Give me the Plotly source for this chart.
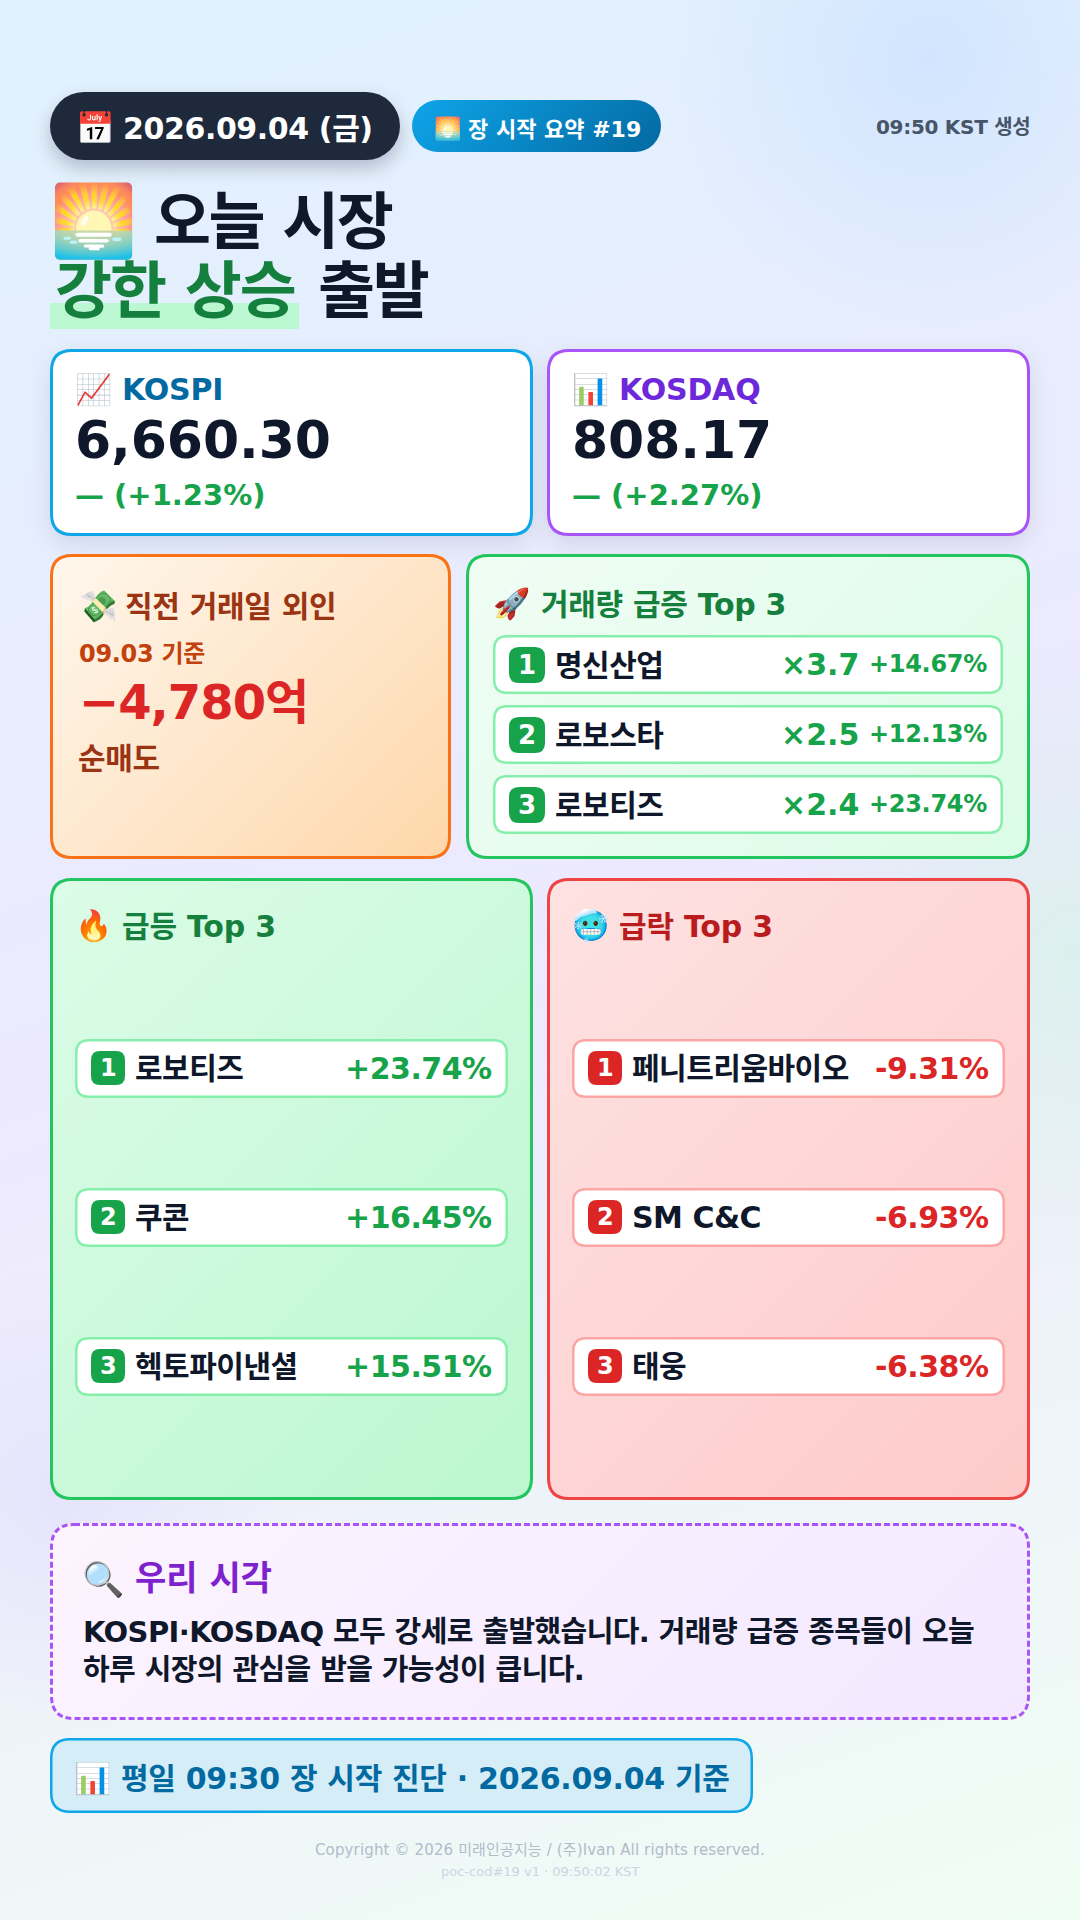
import base64
import math

import plotly.graph_objects as go

FONT = '"DejaVu Sans","Noto Sans CJK KR","Noto Color Emoji",sans-serif'

# values
date_text = "2026.09.04 (금)"
tag_text = "장 시작 요약 #19"
generated_text = "09:50 KST 생성"

index_names = ["KOSPI", "KOSDAQ"]
index_icons = ["📈", "📊"]
index_values = ["6,660.30", "808.17"]
index_changes = ["— (+1.23%)", "— (+2.27%)"]

foreign_date = "09.03 기준"
foreign_value = "−4,780억"
foreign_label = "순매도"

volume_names = ["명신산업", "로보스타", "로보티즈"]
volume_mult = ["×3.7", "×2.5", "×2.4"]
volume_pcts = ["+14.67%", "+12.13%", "+23.74%"]

gainer_names = ["로보티즈", "쿠콘", "헥토파이낸셜"]
gainer_pcts = ["+23.74%", "+16.45%", "+15.51%"]
loser_names = ["페니트리움바이오", "SM C&C", "태웅"]
loser_pcts = ["-9.31%", "-6.93%", "-6.38%"]

insight_lines = [
    "KOSPI·KOSDAQ 모두 강세로 출발했습니다. 거래량 급증 종목들이 오늘",
    "하루 시장의 관심을 받을 가능성이 큽니다.",
]
footer_text = "평일 09:30 장 시작 진단 · 2026.09.04 기준"
copyright_text = "Copyright © 2026 미래인공지능 / (주)Ivan All rights reserved."
build_text = "poc-cod#19 v1 · 09:50:02 KST"

images = []
shapes = []
notes = []


def rounded(x0, y0, x1, y1, r):
    return (
        f"M {x0 + r},{y0} L {x1 - r},{y0} Q {x1},{y0} {x1},{y0 + r} "
        f"L {x1},{y1 - r} Q {x1},{y1} {x1 - r},{y1} "
        f"L {x0 + r},{y1} Q {x0},{y1} {x0},{y1 - r} "
        f"L {x0},{y0 + r} Q {x0},{y0} {x0 + r},{y0} Z"
    )


def svg_image(svg, x, y, w, h):
    src = "data:image/svg+xml;base64," + base64.b64encode(svg.encode()).decode()
    images.append(
        dict(
            source=src, xref="x", yref="y", x=x, y=y, sizex=w, sizey=h,
            sizing="stretch", xanchor="left", yanchor="top", layer="below",
        )
    )


def card(x0, y0, x1, y1, r, c0, c1, border=None, bw=3, shadow=0, dash=None, angle=135):
    # gradient body and soft shadow come as an svg, the border as a shape
    pad = 40
    w, h = x1 - x0, y1 - y0
    t = math.radians(angle)
    ln = abs(w * math.sin(t)) + abs(h * math.cos(t))
    gx0 = pad + w / 2 - math.sin(t) * ln / 2
    gy0 = pad + h / 2 + math.cos(t) * ln / 2
    gx1 = pad + w / 2 + math.sin(t) * ln / 2
    gy1 = pad + h / 2 - math.cos(t) * ln / 2
    shadow_part = ""
    if shadow:
        shadow_part = (
            f'<rect x="{pad}" y="{pad + shadow[0]}" width="{w}" height="{h}" rx="{r}" '
            f'fill="#0f172a" fill-opacity="{shadow[2]}" filter="url(#b)"/>'
        )
        blur = shadow[1]
    else:
        blur = 1
    svg = (
        f'<svg xmlns="http://www.w3.org/2000/svg" width="{w + 2 * pad}" height="{h + 2 * pad}">'
        f'<defs><linearGradient id="g" gradientUnits="userSpaceOnUse" '
        f'x1="{gx0}" y1="{gy0}" x2="{gx1}" y2="{gy1}">'
        f'<stop offset="0" stop-color="{c0}"/><stop offset="1" stop-color="{c1}"/></linearGradient>'
        f'<filter id="b" x="-30%" y="-30%" width="160%" height="160%">'
        f'<feGaussianBlur stdDeviation="{blur}"/></filter></defs>'
        f'{shadow_part}<rect x="{pad}" y="{pad}" width="{w}" height="{h}" rx="{r}" fill="url(#g)"/></svg>'
    )
    svg_image(svg, x0 - pad, y0 - pad, w + 2 * pad, h + 2 * pad)
    if border:
        i = bw / 2
        shapes.append(
            dict(
                type="path", xref="x", yref="y", layer="between",
                path=rounded(x0 + i, y0 + i, x1 - i, y1 - i, r - i),
                line=dict(color=border, width=bw, dash=dash or "solid"),
                fillcolor="rgba(0,0,0,0)",
            )
        )


def box(x0, y0, x1, y1, r, fill, border=None, bw=0):
    i = bw / 2
    shapes.append(
        dict(
            type="path", xref="x", yref="y", layer="between",
            path=rounded(x0 + i, y0 + i, x1 - i, y1 - i, r - i),
            fillcolor=fill,
            line=dict(color=border or fill, width=bw),
        )
    )


def txt(x, y, s, size, color, anchor="left", weight=700, sp=0):
    if sp:
        s = f'<span style="letter-spacing:{sp}px">{s}</span>'
    notes.append(
        dict(
            xref="x", yref="y", x=x, y=y, text=s, showarrow=False,
            xanchor=anchor, yanchor="middle", align=anchor,
            borderpad=0, borderwidth=0,
            font=dict(family=FONT, size=size, color=color, weight=weight),
        )
    )


# page background
bg_svg = (
    '<svg xmlns="http://www.w3.org/2000/svg" width="1080" height="1920"><defs>'
    '<linearGradient id="p" gradientUnits="userSpaceOnUse" x1="200" y1="-60" x2="880" y2="1980">'
    '<stop offset="0" stop-color="#e0f2fe"/><stop offset="0.5" stop-color="#ede9fe"/>'
    '<stop offset="1" stop-color="#f0fdf4"/></linearGradient>'
    '<radialGradient id="a" gradientUnits="userSpaceOnUse" cx="930" cy="60" r="270">'
    '<stop offset="0" stop-color="#bfdbfe" stop-opacity="0.5"/>'
    '<stop offset="1" stop-color="#bfdbfe" stop-opacity="0"/></radialGradient>'
    '<radialGradient id="c" gradientUnits="userSpaceOnUse" cx="1080" cy="960" r="320">'
    '<stop offset="0" stop-color="#bbf7d0" stop-opacity="0.35"/>'
    '<stop offset="1" stop-color="#bbf7d0" stop-opacity="0"/></radialGradient>'
    '<radialGradient id="d" gradientUnits="userSpaceOnUse" cx="60" cy="1500" r="230">'
    '<stop offset="0" stop-color="#ddd6fe" stop-opacity="0.45"/>'
    '<stop offset="1" stop-color="#ddd6fe" stop-opacity="0"/></radialGradient>'
    '</defs><rect width="1080" height="1920" fill="url(#p)"/>'
    '<rect width="1080" height="1920" fill="url(#a)"/>'
    '<rect width="1080" height="1920" fill="url(#c)"/>'
    '<rect width="1080" height="1920" fill="url(#d)"/></svg>'
)
svg_image(bg_svg, 0, 0, 1080, 1920)

# header
card(50, 92, 400, 160, 34, "#1e293b", "#1e293b", shadow=(8, 9, 0.22))
txt(76, 128, "📅", 31, "#ffffff")
txt(123, 128, date_text, 30, "#ffffff", sp=-0.4)
card(412, 100, 661, 152, 26, "#0ea5e9", "#0369a1")
txt(434, 128, "🌅", 22, "#ffffff")
txt(468, 129, tag_text, 22, "#ffffff")
txt(1030, 127, generated_text, 20, "#475569", anchor="right", sp=-0.3)

# title
box(50, 303, 299, 329, 0.1, "#bbf7d0")
txt(50, 221, "🌅", 70, "#0f172a")
txt(154, 222, "오늘 시장", 62, "#0f172a", sp=-2.5)
txt(55, 291, "강한 상승", 62, "#15803d", sp=-2)
txt(318, 291, "출발", 62, "#0f172a", sp=-2.2)

# index cards
index_x = [50, 547]
index_border = ["#0ea5e9", "#a855f7"]
index_color = ["#0369a1", "#6d28d9"]
for i in range(2):
    x = index_x[i]
    card(x, 349, x + 483, 536, 22, "#ffffff", "#ffffff", index_border[i], shadow=(8, 11, 0.1))
    txt(x + 25, 389, index_icons[i], 30, "#000000")
    txt(x + 72, 389, index_names[i], 30, index_color[i], sp=-0.2)
    txt(x + 25, 440, index_values[i], 52, "#0f172a", sp=-0.1)
    txt(x + 25, 495, index_changes[i], 29, "#16a34a")

# foreign flow card
card(50, 554, 451, 859, 22, "#fff7ed", "#fed7aa", "#f97316")
txt(79, 606, "💸", 31, "#000000")
txt(125, 606, "직전 거래일 외인", 30, "#9a3412", sp=-0.3)
txt(79, 654, foreign_date, 24, "#c2410c", sp=-0.3)
txt(79, 702, foreign_value, 48, "#dc2626", sp=-1)
txt(78, 758, foreign_label, 30, "#9a3412", sp=-0.3)

# volume card
card(466, 554, 1030, 859, 22, "#f0fdf4", "#dcfce7", "#22c55e")
txt(493, 603, "🚀", 30, "#000000")
txt(541, 604, "거래량 급증 Top 3", 30, "#15803d", sp=-0.3)
volume_top = [635, 705, 775]
for i in range(3):
    y = volume_top[i]
    box(493, y, 1003, y + 59, 14, "#ffffff", "#86efac", 2.5)
    box(509, y + 12, 545, y + 48, 10, "#16a34a")
    txt(527, y + 30, str(i + 1), 26, "#ffffff", anchor="center")
    txt(555, y + 30, volume_names[i], 30, "#0f172a", sp=-0.5)
    txt(859, y + 29, volume_mult[i], 30, "#16a34a", anchor="right")
    txt(987, y + 29, volume_pcts[i], 24, "#16a34a", anchor="right", sp=-0.3)


def top3(x, title, icon, names, pcts, c0, c1, border, title_color, row_border, accent):
    card(x, 878, x + 483, 1500, 22, c0, c1, border)
    txt(x + 25, 925, icon, 30, "#000000")
    txt(x + 72, 926, title, 30, title_color, sp=-0.2)
    for i, y in enumerate([1039, 1188, 1337]):
        box(x + 25, y, x + 458, y + 59, 14, "#ffffff", row_border, 2.5)
        box(x + 41, y + 12, x + 75, y + 46, 9, accent)
        txt(x + 58, y + 29, str(i + 1), 24, "#ffffff", anchor="center")
        txt(x + 85, y + 29, names[i], 30, "#0f172a", sp=-0.5)
        txt(x + 442, y + 29, pcts[i], 30, accent, anchor="right", sp=-0.5)


top3(50, "급등 Top 3", "🔥", gainer_names, gainer_pcts, "#dcfce7", "#bbf7d0",
     "#22c55e", "#15803d", "#86efac", "#16a34a")
top3(547, "급락 Top 3", "🥶", loser_names, loser_pcts, "#fee2e2", "#fecaca",
     "#ef4444", "#b91c1c", "#fca5a5", "#dc2626")

# our view
card(50, 1523, 1030, 1720, 24, "#fdf4ff", "#f3e8ff", "#a855f7", dash="6px,3px")
txt(82, 1578, "🔍", 34, "#000000")
txt(135, 1578, "우리 시각", 34, "#7e22ce")
txt(83, 1632, insight_lines[0], 29, "#0f172a", sp=-0.6)
txt(83, 1670, insight_lines[1], 29, "#0f172a", sp=-0.6)

# bottom strip
card(50, 1738, 753, 1813, 20, "#d4edf6", "#d4edf6", "#0ea5e9", bw=2.5)
txt(74, 1778, "📊", 30, "#000000")
txt(121, 1778, footer_text, 30, "#0369a1", sp=-0.3)

txt(540, 1850, copyright_text, 15, "#b0bccb", anchor="center", weight=400, sp=0.14)
txt(540, 1871, build_text, 13, "#cbd5e1", anchor="center", weight=400)

fig = go.Figure(
    go.Scatter(x=[0], y=[0], mode="markers", marker=dict(opacity=0), hoverinfo="skip")
)
fig.update_layout(
    width=1080,
    height=1920,
    margin=dict(l=0, r=0, t=0, b=0),
    paper_bgcolor="#ede9fe",
    plot_bgcolor="rgba(0,0,0,0)",
    showlegend=False,
    xaxis=dict(range=[0, 1080], visible=False, fixedrange=True),
    yaxis=dict(range=[1920, 0], visible=False, fixedrange=True),
    images=images,
    shapes=shapes,
    annotations=notes,
)
fig.write_html(
    "out.html",
    config={"displayModeBar": False},
    post_script="document.body.style.margin='0';",
)
